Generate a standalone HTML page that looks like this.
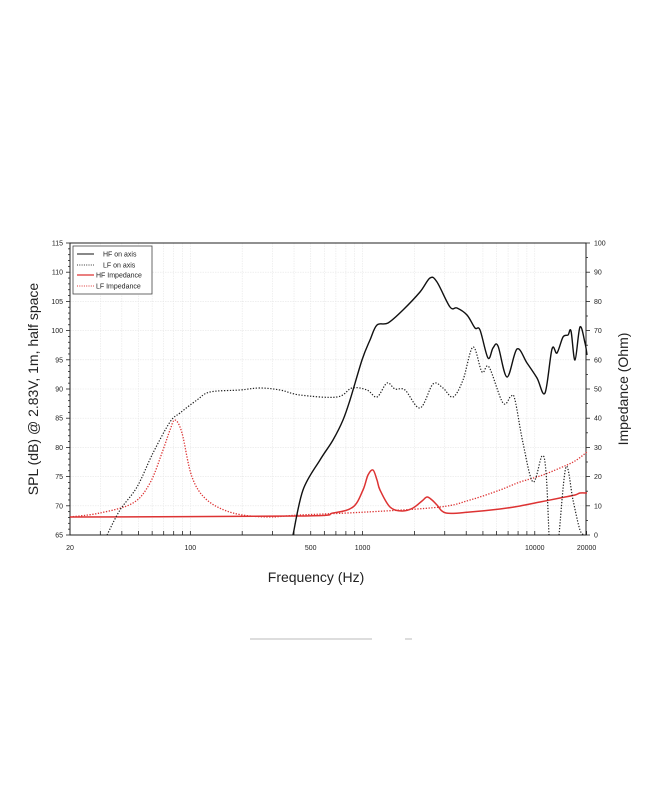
<!DOCTYPE html>
<html><head><meta charset="utf-8"><style>
html,body{margin:0;padding:0;background:#fff;}
svg{display:block;font-family:"Liberation Sans","DejaVu Sans",sans-serif;}
</style></head><body>
<svg id="s" width="650" height="794" viewBox="0 0 650 794" xmlns="http://www.w3.org/2000/svg">
<g id="grid" stroke="#e6e6e6" stroke-width="0.6" stroke-dasharray="1.5,1"></g>
<g id="ticks" stroke="#222" stroke-width="0.8"></g>
<rect x="70" y="243" width="516" height="292" fill="none" stroke="#222" stroke-width="1"/>
<g id="curves" fill="none" stroke-linejoin="round">
<polyline stroke="#d33" stroke-width="1.3" stroke-dasharray="1.3,1.5" points="70,517 100,513 133,503 150,483 163,450 170,430 175,420 182,433 192,477 207,500 233,513 267,517 300,515 367,512 440,507 470,500 500,490 520,482 540,476 560,468 575,461 587,452"/>
<polyline stroke="#d33" stroke-width="1.5" points="70,517 300,516 333,513 353,507 363,490 368,475 373,470 377,480 380,490 390,507 402,511 413,508 422,501 427,497 432,500 437,505 446,513 470,512 500,509 520,506 540,502 560,498 575,495 580,493 587,493"/>
<polyline stroke="#222" stroke-width="1.2" stroke-dasharray="1.3,1.6" points="107,535 120,510 137,487 153,453 170,422 180,413 197,400 210,392 240,390 260,388 280,390 300,395 337,397 352,388 367,390 377,397 387,383 395,389 405,390 420,408 433,384 443,388 453,397 463,380 473,347 482,372 489,367 503,403 511,396 515,400 523,443 533,482 542,456 546,472 549,535"/>
<polyline stroke="#222" stroke-width="1.2" stroke-dasharray="1.3,1.6" points="559,535 566,467 573,500 580,530 585,535"/>
<polyline stroke="#111" stroke-width="1.4" points="293,535 303,490 320,460 333,440 343,420 350,400 362,360 370,340 377,325 388,323 403,310 420,292 430,278 437,282 450,307 457,308 467,315 475,328 480,330 488,358 493,348 498,346 507,377 517,349 527,363 537,378 545,393 552,349 557,353 563,337 568,335 571,331 575,360 580,327 585,343 587,355"/>
</g>
<g id="labels" font-size="7" fill="#222"></g>
<rect x="73" y="246" width="79" height="48" fill="#fff" stroke="#444" stroke-width="0.8"/>
<g font-size="7" fill="#222">
<line x1="77" y1="254" x2="94" y2="254" stroke="#111" stroke-width="1"/><text x="103" y="256.5">HF on axis</text>
<line x1="77" y1="265" x2="94" y2="265" stroke="#333" stroke-width="1" stroke-dasharray="1,1.3"/><text x="103" y="267.5">LF on axis</text>
<line x1="77" y1="275" x2="94" y2="275" stroke="#d33" stroke-width="1.2"/><text x="96" y="277.5">HF Impedance</text>
<line x1="77" y1="286" x2="94" y2="286" stroke="#d33" stroke-width="1" stroke-dasharray="1,1.3"/><text x="96" y="288.5">LF Impedance</text>
</g>
<text x="316" y="582" font-size="14" text-anchor="middle" fill="#222">Frequency (Hz)</text>
<text transform="translate(38,389) rotate(-90)" font-size="14" text-anchor="middle" fill="#222">SPL (dB) @ 2.83V, 1m, half space</text>
<text transform="translate(628,389) rotate(-90)" font-size="14" text-anchor="middle" fill="#222">Impedance (Ohm)</text>
<line x1="250" y1="639" x2="372" y2="639" stroke="#bbb" stroke-width="1"/>
<line x1="405" y1="639" x2="412" y2="639" stroke="#bbb" stroke-width="1"/>
</svg>
<script>
(function(){
var ns="http://www.w3.org/2000/svg";
function el(p,t,a,txt){var e=document.createElementNS(ns,t);for(var k in a)e.setAttribute(k,a[k]);if(txt!=null)e.textContent=txt;document.getElementById(p).appendChild(e);}
function fx(f){return 70+(Math.log10(f)-Math.log10(20))*172.2;}
function fy(d){return 535-(d-65)*5.84;}
var fs=[20,30,40,50,60,70,80,90,100,200,300,400,500,600,700,800,900,1000,2000,3000,4000,5000,6000,7000,8000,9000,10000,20000];
fs.forEach(function(f){var x=fx(f);if(f>20&&f<20000)el("grid","line",{x1:x,y1:243,x2:x,y2:535});el("ticks","line",{x1:x,y1:535,x2:x,y2:531});});
for(var d=65;d<=115;d++){var y=fy(d);if(d%5==0&&d>65&&d<115)el("grid","line",{x1:70,y1:y,x2:586,y2:y});el("ticks","line",{x1:d%5==0?66:68,y1:y,x2:70,y2:y});}
for(var z=0;z<=100;z+=5){var y=535-z*2.92;el("ticks","line",{x1:586,y1:y,x2:z%10==0?590:588,y2:y});if(z%10==0)el("labels","text",{x:594,y:y+2.5},String(z));}
for(var d=65;d<=115;d+=5)el("labels","text",{x:63,y:fy(d)+2.5,"text-anchor":"end"},String(d));
[[20,"20"],[100,"100"],[500,"500"],[1000,"1000"],[10000,"10000"],[20000,"20000"]].forEach(function(a){el("labels","text",{x:fx(a[0]),y:550,"text-anchor":"middle"},a[1]);});
// smooth polylines
var pls=document.querySelectorAll("#curves polyline");
pls.forEach(function(pl){
 var pts=pl.getAttribute("points").trim().split(/\s+/).map(function(s){return s.split(",").map(Number);});
 var d="M"+pts[0][0]+","+pts[0][1];
 for(var i=0;i<pts.length-1;i++){
  var p0=pts[i-1]||pts[i],p1=pts[i],p2=pts[i+1],p3=pts[i+2]||p2;
  var c1x=p1[0]+(p2[0]-p0[0])/6,c1y=p1[1]+(p2[1]-p0[1])/6;
  var c2x=p2[0]-(p3[0]-p1[0])/6,c2y=p2[1]-(p3[1]-p1[1])/6;
  d+=" C"+c1x.toFixed(1)+","+c1y.toFixed(1)+" "+c2x.toFixed(1)+","+c2y.toFixed(1)+" "+p2[0]+","+p2[1];
 }
 var p=document.createElementNS(ns,"path");
 ["stroke","stroke-width","stroke-dasharray"].forEach(function(a){if(pl.getAttribute(a))p.setAttribute(a,pl.getAttribute(a));});
 p.setAttribute("d",d);
 pl.parentNode.replaceChild(p,pl);
});
})();
</script>
</body></html>
